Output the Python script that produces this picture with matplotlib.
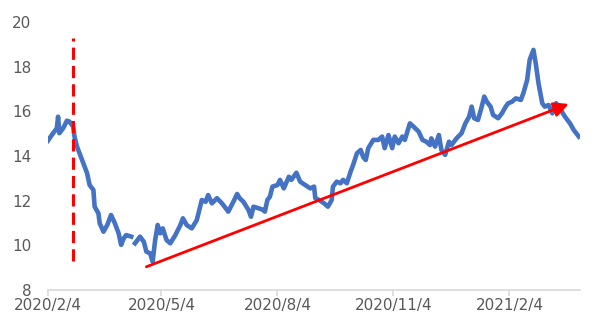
import matplotlib
matplotlib.use("Agg")
import matplotlib.pyplot as plt
import numpy as np
import pandas as pd

# series (NaN = gap in the line)
dates = [
    "2020-02-04", "2020-02-07", "2020-02-09", "2020-02-11", "2020-02-12", "2020-02-13",
    "2020-02-16", "2020-02-19", "2020-02-21", "2020-02-24", "2020-02-25", "2020-02-27",
    "2020-02-29", "2020-03-03", "2020-03-06", "2020-03-08", "2020-03-11", "2020-03-12",
    "2020-03-15", "2020-03-16", "2020-03-19", "2020-03-22", "2020-03-25", "2020-03-28",
    "2020-03-31", "2020-04-02", "2020-04-04", "2020-04-06", "2020-04-10", "2020-04-11",
    "2020-04-13", "2020-04-17", "2020-04-20", "2020-04-22", "2020-04-25", "2020-04-27",
    "2020-04-29", "2020-05-01", "2020-05-03", "2020-05-05", "2020-05-08", "2020-05-11",
    "2020-05-15", "2020-05-19", "2020-05-21", "2020-05-24", "2020-05-28", "2020-06-01",
    "2020-06-03", "2020-06-05", "2020-06-08", "2020-06-10", "2020-06-13", "2020-06-17",
    "2020-06-21", "2020-06-26", "2020-06-30", "2020-07-03", "2020-07-05", "2020-07-08",
    "2020-07-12", "2020-07-14", "2020-07-16", "2020-07-20", "2020-07-23", "2020-07-25",
    "2020-07-27", "2020-07-29", "2020-07-31", "2020-08-04", "2020-08-06", "2020-08-09",
    "2020-08-13", "2020-08-15", "2020-08-19", "2020-08-22", "2020-08-26", "2020-08-30",
    "2020-09-02", "2020-09-03", "2020-09-06", "2020-09-10", "2020-09-13", "2020-09-16",
    "2020-09-17", "2020-09-20", "2020-09-23", "2020-09-25", "2020-09-28", "2020-10-01",
    "2020-10-03", "2020-10-06", "2020-10-09", "2020-10-11", "2020-10-13", "2020-10-15",
    "2020-10-19", "2020-10-23", "2020-10-26", "2020-10-28", "2020-10-31", "2020-11-03",
    "2020-11-05", "2020-11-08", "2020-11-11", "2020-11-13", "2020-11-17", "2020-11-20",
    "2020-11-24", "2020-11-27", "2020-11-30", "2020-12-03", "2020-12-04", "2020-12-07",
    "2020-12-10", "2020-12-12", "2020-12-15", "2020-12-18", "2020-12-20", "2020-12-24",
    "2020-12-28", "2020-12-31", "2021-01-03", "2021-01-05", "2021-01-07", "2021-01-10",
    "2021-01-13", "2021-01-15", "2021-01-17", "2021-01-20", "2021-01-22", "2021-01-26",
    "2021-01-29", "2021-02-01", "2021-02-03", "2021-02-06", "2021-02-09", "2021-02-13",
    "2021-02-15", "2021-02-18", "2021-02-20", "2021-02-23", "2021-02-25", "2021-02-27",
    "2021-03-02", "2021-03-04", "2021-03-07", "2021-03-10", "2021-03-13", "2021-03-16",
    "2021-03-20", "2021-03-24", "2021-03-27", "2021-03-31",
]
values = [
    14.69, 14.94, 15.09, 15.24, 15.76, 15.02,
    15.24, 15.58, 15.54, 15.31, 14.87, 14.42,
    14.12, 13.67, 13.23, 12.70, 12.48, 11.73,
    11.43, 10.99, 10.61, 10.91, 11.36, 10.99,
    10.54, 10.02, 10.31, 10.46, 10.39, np.nan,
    10.09, 10.39, 10.16, 9.72, 9.64, 9.27,
    10.24, 10.91, 10.54, 10.76, 10.24, 10.09,
    10.46, 10.91, 11.21, 10.91, 10.76, 11.13,
    11.58, 12.03, 11.95, 12.25, 11.88, 12.11,
    11.88, 11.51, 11.95, 12.30, 12.11, 11.95,
    11.58, 11.28, 11.73, 11.66, 11.60, 11.51,
    12.03, 12.18, 12.63, 12.70, 12.93, 12.55,
    13.07, 12.93, 13.25, 12.85, 12.70, 12.55,
    12.63, 12.11, 12.03, 11.88, 11.73, 12.03,
    12.63, 12.85, 12.78, 12.93, 12.78, 13.30,
    13.60, 14.12, 14.27, 13.95, 13.82, 14.35,
    14.72, 14.72, 14.87, 14.35, 14.94, 14.35,
    14.87, 14.57, 14.87, 14.72, 15.46, 15.31,
    15.09, 14.72, 14.64, 14.49, 14.79, 14.42,
    14.94, 14.27, 14.05, 14.64, 14.49, 14.79,
    15.02, 15.46, 15.76, 16.21, 15.69, 15.61,
    16.21, 16.66, 16.43, 16.21, 15.84, 15.69,
    15.91, 16.21, 16.36, 16.43, 16.58, 16.51,
    16.81, 17.40, 18.30, 18.75, 18.08, 17.26,
    16.36, 16.21, 16.28, 15.91, 16.36, 16.13,
    15.76, 15.46, 15.16, 14.87,
]

tick_dates = ["2020-02-04", "2020-05-04", "2020-08-04", "2020-11-04", "2021-02-04"]
tick_labels = ["2020/2/4", "2020/5/4", "2020/8/4", "2020/11/4", "2021/2/4"]

# annotations
vline_date = "2020-02-24"
vline_range = (9.3, 19.3)
arrow_start = ("2020-04-22", 9.04)
arrow_end = ("2021-03-23", 16.33)

x = pd.to_datetime(dates)
y = np.array(values)

fig = plt.figure(figsize=(6.03, 3.34), dpi=100)
ax = fig.add_axes([0.0796, 0.1317, 0.8824, 0.8025])

ax.plot(x, y, color="#4472C4", lw=3.3, solid_joinstyle="round")

ax.plot([pd.Timestamp(vline_date)] * 2, vline_range, color="#FF0000",
        lw=2.2, dashes=(4, 2))

ax.annotate("", xy=(pd.Timestamp(arrow_end[0]), arrow_end[1]),
            xytext=(pd.Timestamp(arrow_start[0]), arrow_start[1]),
            arrowprops=dict(arrowstyle="-|>", color="#FF0000", lw=2.0,
                            mutation_scale=22, shrinkA=0, shrinkB=0))

ax.set_xlim(pd.Timestamp("2020-02-04"), pd.Timestamp("2021-04-01"))
ax.set_ylim(8, 20)
ax.set_yticks(range(8, 21, 2))
ax.set_xticks(pd.to_datetime(tick_dates))
ax.set_xticklabels(tick_labels)

for s in ["top", "right", "left"]:
    ax.spines[s].set_visible(False)
ax.spines["bottom"].set_color("#D9D9D9")
ax.spines["bottom"].set_linewidth(1.2)

ax.tick_params(axis="y", length=0, pad=12, labelsize=11, labelcolor="#595959")
ax.tick_params(axis="x", length=4, width=1.2, color="#D9D9D9", pad=2,
               labelsize=11, labelcolor="#595959")

fig.savefig("out.png", dpi=100)
